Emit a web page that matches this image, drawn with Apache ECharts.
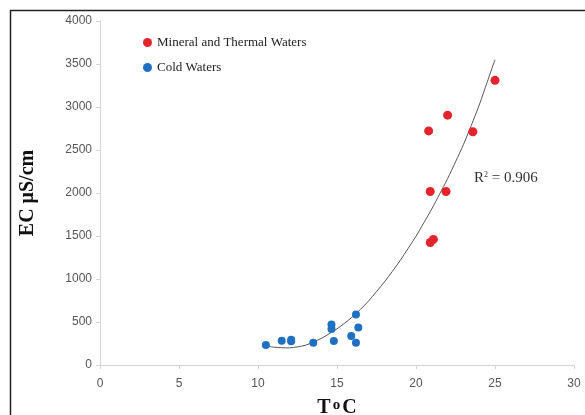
<!DOCTYPE html>
<html>
<head>
<meta charset="utf-8">
<script src="https://cdn.jsdelivr.net/npm/echarts@6/dist/echarts.min.js"></script>
<style>
  html, body { margin: 0; padding: 0; background: #fff; }
  #main { width: 585px; height: 415px; }
</style>
</head>
<body>
<div id="main"></div>
<script>
  // 数据
  var mineralPoints = [
    [25.0, 3310], [22.0, 2905], [20.8, 2722], [23.6, 2712],
    [20.9, 2018], [21.9, 2018], [20.9, 1425], [21.1, 1460]
  ];
  var coldPoints = [
    [10.5, 232], [11.5, 282], [12.1, 293], [12.1, 276], [13.5, 258],
    [14.65, 470], [14.65, 418], [14.8, 280], [15.9, 338],
    [16.2, 588], [16.35, 436], [16.2, 258]
  ];
  // trendline
  var trendPoints = [
    [10.5, 222], [11.0, 208], [11.5, 201], [12.0, 199], [12.5, 211],
    [13.0, 229], [13.5, 267], [14.0, 309], [14.5, 363], [15.0, 421],
    [15.5, 488], [16.0, 563], [16.5, 649], [17.0, 745], [17.5, 854],
    [18.0, 965], [18.5, 1088], [19.0, 1215], [19.5, 1355], [20.0, 1497],
    [20.5, 1655], [21.0, 1815], [21.5, 1990], [22.0, 2167], [22.5, 2362],
    [23.0, 2562], [23.5, 2787], [24.0, 3022], [24.5, 3287], [25.0, 3550]
  ];
  var xTicks = { min: 0, max: 30, interval: 5 };
  var yTicks = { min: 0, max: 4000, interval: 500 };
  var r2Text = '0.906';

  var myChart = echarts.init(document.getElementById('main'));
  myChart.setOption({
    animation: false,
    grid: { left: 100, right: 11, top: 21, bottom: 50, containLabel: false, outerBoundsMode: 'none' },
    legend: {
      orient: 'vertical',
      left: 138,
      top: 31,
      itemGap: 12,
      itemWidth: 9,
      itemHeight: 9,
      data: [
        { name: 'Mineral and Thermal Waters', icon: 'circle' },
        { name: 'Cold Waters', icon: 'circle' }
      ],
      textStyle: { fontFamily: 'Liberation Serif', fontSize: 13, color: '#222' }
    },
    xAxis: {
      type: 'value',
      min: xTicks.min, max: xTicks.max, interval: xTicks.interval,
      name: '{a|T}{s|o}{a|C}',
      nameLocation: 'middle',
      nameGap: 33,
      nameTextStyle: {
        rich: {
          a: { fontFamily: 'Liberation Serif', fontWeight: 'bold', fontSize: 20, color: '#111' },
          s: { fontFamily: 'Liberation Serif', fontWeight: 'bold', fontSize: 15, color: '#111', verticalAlign: 'top', padding: [0, 2, 5, 2] }
        }
      },
      axisLine: { lineStyle: { color: '#d4d4d4' } },
      axisTick: { show: true, inside: false, length: 4, lineStyle: { color: '#d4d4d4' } },
      axisLabel: { color: '#555', fontFamily: 'Liberation Sans', fontSize: 12, margin: 13 },
      splitLine: { show: false }
    },
    yAxis: {
      type: 'value',
      min: yTicks.min, max: yTicks.max, interval: yTicks.interval,
      name: 'EC μS/cm',
      nameLocation: 'middle',
      nameGap: 62,
      nameRotate: 90,
      nameTextStyle: { fontFamily: 'Liberation Serif', fontWeight: 'bold', fontSize: 20, color: '#111' },
      axisLine: { show: true, lineStyle: { color: '#d4d4d4' } },
      axisTick: { show: true, inside: false, length: 4, lineStyle: { color: '#d4d4d4' } },
      axisLabel: {
        color: '#555', fontFamily: 'Liberation Sans', fontSize: 12, margin: 8,
        formatter: function (v) { return String(v); }
      },
      splitLine: { show: false }
    },
    series: [
      {
        name: 'trend',
        type: 'line',
        data: trendPoints,
        smooth: 0.3,
        showSymbol: false,
        lineStyle: { color: '#555', width: 1 },
        z: 1
      },
      {
        name: 'Mineral and Thermal Waters',
        type: 'scatter',
        data: mineralPoints,
        symbolSize: 9,
        itemStyle: { color: '#e3242b', opacity: 1 },
        z: 3
      },
      {
        name: 'Cold Waters',
        type: 'scatter',
        data: coldPoints,
        symbolSize: 8,
        itemStyle: { color: '#1f70c1', opacity: 1 },
        z: 3
      }
    ],
    graphic: [
      {
        type: 'rect',
        shape: { x: 10.5, y: 10.5, width: 700, height: 500 },
        style: { fill: 'none', stroke: '#222', lineWidth: 1.5 },
        silent: true
      },
      {
        type: 'text',
        left: 474,
        top: 171,
        style: {
          text: '{a|R}{s|2}{a| = ' + r2Text + '}',
          rich: {
            a: { fontFamily: 'Liberation Serif', fontSize: 15, fill: '#333' },
            s: { fontFamily: 'Liberation Serif', fontSize: 8, fill: '#333', verticalAlign: 'top', padding: [0, 0, 7, 0] }
          }
        }
      }
    ]
  });
</script>
</body>
</html>
